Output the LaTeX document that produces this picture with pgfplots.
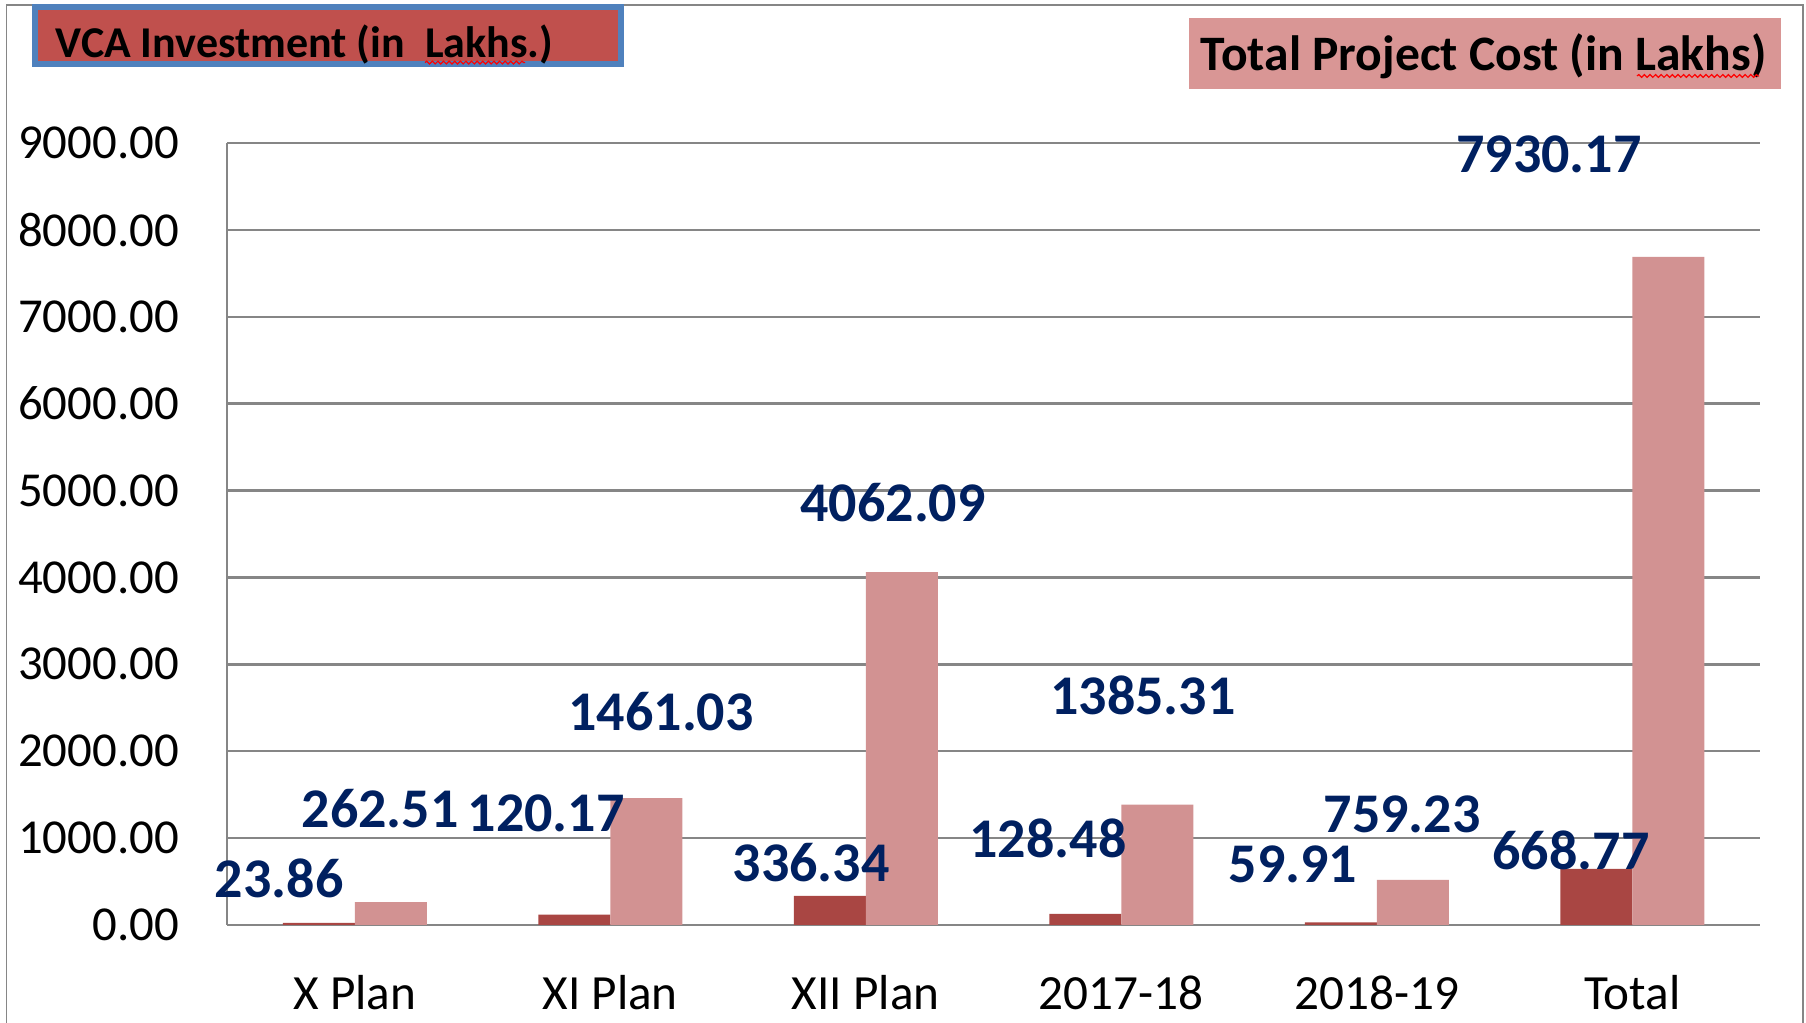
\documentclass[border=0pt]{standalone}
\usepackage{fontspec}
\setmainfont{Carlito}
\usepackage{pgfplots}
\pgfplotsset{compat=1.18}
\usetikzlibrary{decorations.pathmorphing}
\definecolor{vcabar}{RGB}{169,70,67}
\definecolor{tpcbar}{RGB}{210,146,146}
\definecolor{vcaleg}{RGB}{192,80,77}
\definecolor{tpcleg}{RGB}{217,150,149}
\definecolor{legborder}{RGB}{79,129,189}
\definecolor{navy}{RGB}{0,32,96}
\definecolor{gridgray}{RGB}{134,134,134}
\begin{document}
\begin{tikzpicture}
\path[use as bounding box] (-56.75pt,-24.5pt) rectangle (394.75pt,231.25pt);
\draw[gridgray, line width=0.45pt] (-55.1pt,-26pt) -- (-55.1pt,230pt) -- (394pt,230pt) -- (394pt,-26pt);
\begin{axis}[
  at={(0pt,0pt)}, anchor=south west,
  scale only axis, width=383.25pt, height=195.5pt,
  xmin=-0.5, xmax=5.5, ymin=0, ymax=9000,
  enlargelimits=false, clip=false,
  axis lines*=left,
  axis line style={gridgray, line width=0.6pt, -},
  xtick={0,1,2,3,4,5},
  xticklabels={X Plan, XI Plan, XII Plan, 2017-18, 2018-19, Total},
  ytick={0,1000,2000,3000,4000,5000,6000,7000,8000,9000},
  major tick length=0pt,
  ymajorgrids, grid style={gridgray, line width=0.6pt},
  /pgf/number format/fixed,
  /pgf/number format/fixed zerofill,
  /pgf/number format/precision=2,
  /pgf/number format/1000 sep={},
  /pgf/number format/assume math mode=true,
  yticklabel style={font=\fontsize{12.2}{14}\selectfont, xshift=-8.5pt},
  xticklabel style={font=\fontsize{12.3}{14}\selectfont, anchor=center, yshift=-17pt},
]
\addplot[ybar, bar width=18pt, bar shift=-9pt, fill=vcabar, draw=none]
  coordinates {(0,23.86) (1,120.17) (2,336.34) (3,128.48) (4,30) (5,645)};
\addplot[ybar, bar width=18pt, bar shift=9pt, fill=tpcbar, draw=none]
  coordinates {(0,262.51) (1,1461.03) (2,4062.09) (3,1385.31) (4,520) (5,7691)};
\addplot[draw=none, mark=none, nodes near coords, point meta=explicit symbolic,
  every node near coord/.append style={anchor=center, font=\fontsize{14}{16}\selectfont\bfseries, text=navy}]
  table[meta=label] {
x y label
-0.296 541 23.86
0.099 1335 262.51
0.749 1289 120.17
1.199 2451 1461.03
1.786 714 336.34
2.107 4857 4062.09
2.713 1001 128.48
3.085 2647 1385.31
3.672 702 59.91
4.099 1277 759.23
4.760 863 668.77
4.674 8873 7930.17
};
\end{axis}
\draw[legborder, line width=1.5pt, fill=vcaleg] (-48pt,215.25pt) rectangle (98.5pt,229.5pt);
\node[anchor=base west, inner sep=0pt, font=\fontsize{11}{12}\selectfont\bfseries] at (-43pt,216.8pt) {VCA Investment (in\ \ Lakhs.)};
\draw[red, line width=0.3pt, decorate, decoration={snake, amplitude=0.35pt, segment length=1.4pt}] (49.5pt,215.6pt) -- (74.5pt,215.6pt);
\fill[tpcleg] (240.5pt,209pt) rectangle (388.5pt,226.75pt);
\node[anchor=base west, inner sep=0pt, font=\fontsize{12.4}{14}\selectfont\bfseries] at (243.25pt,213.6pt) {Total Project Cost (in Lakhs)};
\draw[red, line width=0.3pt, decorate, decoration={snake, amplitude=0.35pt, segment length=1.4pt}] (352.5pt,212.25pt) -- (383pt,212.25pt);
\end{tikzpicture}
\end{document}
